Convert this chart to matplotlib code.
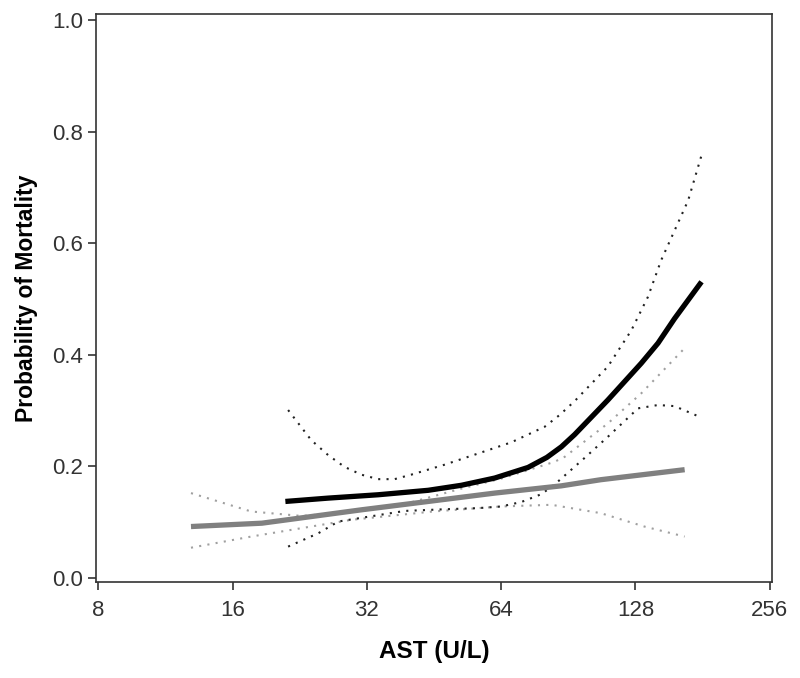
import matplotlib.pyplot as plt
import numpy as np

plt.rcParams['font.family'] = ['Liberation Sans', 'DejaVu Sans']

# black group: fitted curve and confidence band
black_x = [21, 26.2, 33.9, 43.9, 52.1, 61.9, 73.5, 81, 87.3, 93.5, 111, 131.9, 143.8, 156.6, 180]
black_y = [0.137, 0.143, 0.149, 0.157, 0.166, 0.179, 0.198, 0.216, 0.235, 0.257, 0.319, 0.385, 0.421, 0.465, 0.531]

black_up_x = [21.3, 24.0, 26.2, 28.5, 31.1, 33.9, 36.9, 40.2, 47.8, 56.8, 67.4, 80.1, 86.5, 93.5,
              111, 125.3, 136.5, 146.2, 168, 180]
black_up_y = [0.301, 0.247, 0.220, 0.199, 0.185, 0.177, 0.177, 0.185, 0.203, 0.223, 0.243, 0.271, 0.292, 0.317,
              0.379, 0.444, 0.504, 0.570, 0.677, 0.758]

black_lo_x = [21.3, 24.9, 27.6, 38.9, 47.8, 56.8, 64, 71, 78.7, 84.2, 98.4, 111, 129.7, 143.8, 156.6, 178]
black_lo_y = [0.056, 0.080, 0.101, 0.120, 0.123, 0.125, 0.128, 0.136, 0.150, 0.167, 0.215, 0.253, 0.304, 0.310, 0.308, 0.289]

# gray group
gray_x = [12.9, 18.6, 31.1, 43.9, 61.9, 87.3, 107, 165]
gray_y = [0.092, 0.098, 0.122, 0.137, 0.152, 0.165, 0.176, 0.194]

gray_up_x = [12.9, 17.6, 22.8, 29.5, 40, 52.1, 64, 84.2, 88.8, 111, 131.9, 165]
gray_up_y = [0.152, 0.119, 0.111, 0.118, 0.135, 0.160, 0.178, 0.208, 0.217, 0.277, 0.331, 0.412]

gray_lo_x = [12.9, 17.6, 29.5, 45, 64, 83, 107, 134, 165]
gray_lo_y = [0.054, 0.074, 0.104, 0.119, 0.128, 0.131, 0.116, 0.092, 0.074]

fig = plt.figure(figsize=(8, 6.78), dpi=100)
ax = fig.add_axes([0.12, 0.142, 0.845, 0.837])

dots = (0, (1, 3))
ax.plot(gray_up_x, gray_up_y, color='#a0a0a0', lw=1.5, ls=dots)
ax.plot(gray_lo_x, gray_lo_y, color='#a0a0a0', lw=1.5, ls=dots)
ax.plot(black_up_x, black_up_y, color='#222222', lw=1.5, ls=dots)
ax.plot(black_lo_x, black_lo_y, color='#222222', lw=1.5, ls=dots)
ax.plot(gray_x, gray_y, color='#808080', lw=3.8, solid_capstyle='butt')
ax.plot(black_x, black_y, color='black', lw=3.8, solid_capstyle='butt')

ax.set_xscale('log', base=2)
ax.set_xlim(7.9, 259)
ax.set_ylim(-0.007, 1.011)
xt = [8, 16, 32, 64, 128, 256]
ax.set_xticks(xt)
ax.set_xticklabels([str(v) for v in xt])
ax.minorticks_off()
ax.set_yticks([0.0, 0.2, 0.4, 0.6, 0.8, 1.0])
ax.set_yticklabels(['0.0', '0.2', '0.4', '0.6', '0.8', '1.0'])
ax.tick_params(labelsize=16, length=6, width=1.2, colors='#333333', labelcolor='#333333')
ax.tick_params(axis='x', pad=7)
for s in ax.spines.values():
    s.set_linewidth(1.2)
    s.set_color('#333333')

ax.set_xlabel('AST (U/L)', fontsize=17.5, fontweight='bold', labelpad=14)
ax.set_ylabel('Probability of Mortality', fontsize=16.5, fontweight='bold', labelpad=10)

fig.savefig('out.png', dpi=100)
